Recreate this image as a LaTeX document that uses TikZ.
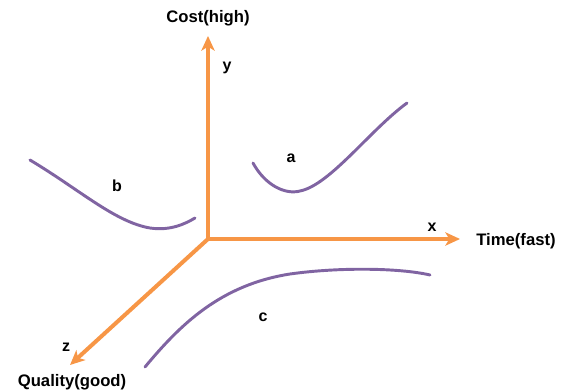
\documentclass[tikz,border=0pt]{standalone}
\usepackage{fontspec}
\setmainfont{Liberation Sans}
\usetikzlibrary{arrows.meta}
\definecolor{axisorange}{HTML}{F79646}
\definecolor{curvepurple}{HTML}{8064A2}
\begin{document}
\begin{tikzpicture}[x=0.75pt,y=-0.75pt,
  axis/.style={draw=axisorange,line width=3pt,-{Stealth[length=11pt,width=10pt,inset=3pt]}},
  curve/.style={draw=curvepurple,line width=2.2pt,line cap=round},
  lbl/.style={font=\bfseries\fontsize{12}{14}\selectfont,inner sep=0pt},
  axlbl/.style={font=\bfseries\fontsize{12.5}{14}\selectfont,inner sep=0pt}]
\useasboundingbox (0,0) rectangle (565,392);
\coordinate (O) at (208,239);
\coordinate (Y) at (208,36);
\coordinate (X) at (460,239);
\coordinate (Z) at (70,365);
\draw[axis] (O) -- (Y);
\draw[axis] (O) -- (X);
\draw[axis] (O) -- (Z);
% curves
\draw[curve] (30,160) .. controls (80,190) and (115,222) .. (150,228) .. controls (170,231) and (185,224) .. (195,218);
\draw[curve] (253,163) .. controls (265,185) and (285,195) .. (300,191) .. controls (330,185) and (370,130) .. (407,103);
\draw[curve] (145,367) .. controls (180,325) and (220,285) .. (290,274) .. controls (340,267) and (400,268) .. (430,275);
% labels
\node[axlbl] (cost) at (208,18) {Cost(high)};
\node[lbl] (ylab) at (227,68) {y};
\node[lbl] (xlab) at (432,227) {x};
\node[axlbl] (time) at (516,241) {Time(fast)};
\node[lbl] (zlab) at (66,347) {z};
\node[axlbl] (qual) at (72,382) {Quality(good)};
\node[lbl] (alab) at (291,158) {a};
\node[lbl] (blab) at (117,186) {b};
\node[lbl] (clab) at (263,317) {c};
\end{tikzpicture}
\end{document}
